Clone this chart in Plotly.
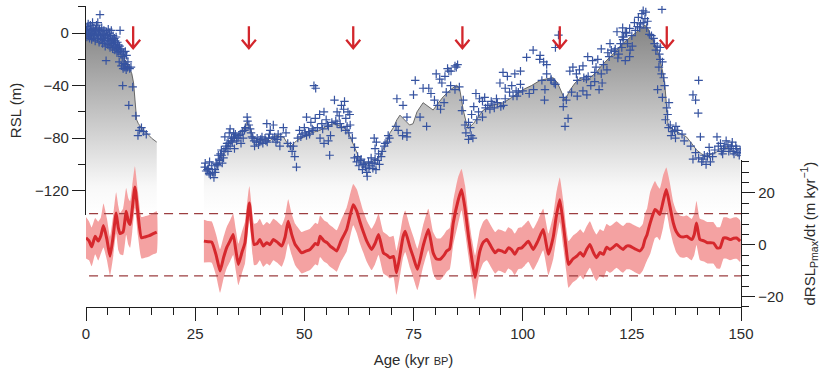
import plotly.graph_objects as go

# ---------------- data ----------------
# RSL envelope curve (m), two blocks (gap 16-27 kyr)
RSL_L_AGE = [0, 1.0, 2.0, 3.2, 4.5, 5.5, 6.5, 7.8, 8.6, 9.3, 10.0, 10.5, 10.9, 11.2, 11.4, 11.6, 12.0, 12.4, 13.2, 13.9, 15.0, 16.2]
RSL_L_VAL = [-1, -3, -4.5, -6.6, -8, -9, -11, -15, -19, -22, -27, -31, -38, -48, -57, -66, -69, -71, -74, -76, -80, -83]

RSL_R_AGE = [27.0, 28.0, 29.2, 30.0, 30.7, 31.5, 32.3, 33.0, 34.0, 35.3,
             36.2, 36.8, 37.5, 38.3, 39.5, 41.4, 42.1, 43.5, 45.2, 46.7,
             48.2, 49.8, 51.5, 53.6, 55.0, 56.6, 57.8, 58.9, 60.0, 60.8,
             61.5, 62.4, 63.5, 64.3, 65.5, 66.5, 67.3, 68.2, 69.6, 70.4,
             71.2, 71.9, 73.0, 74.1, 74.9, 75.8, 77.2, 78.3, 79.5, 80.5,
             81.8, 83.5, 84.9, 85.6, 86.4, 87.0, 87.5, 88.7, 90.0, 91.0,
             93.0, 95.6, 97.5, 100.1, 102.0, 104.0, 106.0, 107.0, 108.0, 108.6,
             109.3, 109.7, 110.3, 110.8, 112.0, 113.1, 114.7, 116.0, 117.0, 118.0,
             119.2, 120.3, 121.5, 122.6, 123.8, 125.0, 126.1, 127.2, 128.0, 128.6,
             129.1, 129.9, 130.7, 131.3, 131.8, 132.3, 132.6, 133.0, 133.3, 134.2,
             135.3, 136.5, 137.5, 138.7, 139.8, 141.0, 142.1, 143.2, 144.4, 145.5,
             146.7, 147.8, 148.8, 149.8]
RSL_R_VAL = [-102, -105, -107, -103, -97, -91, -86, -81.5, -79, -76,
             -72, -68, -71, -79, -82, -81, -82, -78, -79, -87,
             -82, -79, -76, -74, -71, -69, -70, -71.5, -75, -81.5,
             -88, -94, -98, -99, -98, -96, -94, -87, -76, -72,
             -66, -62.5, -66, -70, -69, -60, -53, -56, -58.6, -54,
             -48.5, -43, -39.6, -43, -58.7, -67, -72.6, -69, -63, -58.6,
             -55, -53, -49, -43, -40, -36, -34.5, -34, -38, -43,
             -49, -51, -47, -43.5, -38, -34.5, -36, -32, -29.5, -25,
             -20.6, -17, -13, -9, -5.3, -2, 0.8, 3.5, 6, 4,
             0, -5, -11.6, -18, -25.6, -33, -41, -58.6, -70, -73,
             -75, -77, -79, -84, -89, -92, -94, -92, -90.5, -88,
             -87, -89, -92, -94]

# individual RSL data points (age kyr, RSL m)
RSL_POINTS = [
    (0.1, 2), (0.2, -3), (0.3, 5), (0.4, 0), (0.5, 7), (0.6, -1), (0.7, 3), (0.8, -4), (0.9, 1), (1.0, 6),
    (1.1, -2), (1.2, 3), (1.3, -5), (1.4, 0), (1.5, 8), (1.6, 2), (1.7, -3), (1.8, 4), (1.9, -1), (2.0, 1),
    (2.1, -6), (2.2, 3), (2.3, -2), (2.4, 6), (2.5, 0), (2.6, -4), (2.7, 8), (2.8, 2), (2.9, -1), (3.0, -7),
    (3.1, 3), (3.2, 14), (3.3, -3), (3.4, 1), (3.5, -5), (3.6, 4), (3.7, -2), (3.8, -8), (3.9, 0), (4.0, -4),
    (4.1, 2), (4.2, -6), (4.3, -1), (4.4, -10), (4.5, -3), (4.6, -21), (4.7, 1), (4.8, -6), (4.9, -2), (5.0, -9),
    (5.1, 3), (5.2, -4), (5.3, -7), (5.4, 0), (5.5, -11), (5.6, -3), (5.7, -6), (5.8, 2), (5.9, -8), (6.0, -5),
    (6.1, -12), (6.2, -2), (6.3, -7), (6.4, -10), (6.5, -4), (6.6, -13), (6.7, -6), (6.8, -9), (6.9, -3), (7.0, -11),
    (7.1, -15), (7.2, -7), (7.3, -12), (7.4, -9), (7.5, -14), (7.6, -22), (7.7, -10), (7.8, 2), (7.9, -13), (8.0, -16),
    (8.1, -25), (8.2, -12), (8.3, -18), (8.4, -40), (8.5, -27), (8.6, -15), (8.7, -23), (8.8, -19), (8.9, -26), (9.0, -14),
    (9.1, -24), (9.2, -28), (9.3, -17), (9.5, -26), (9.6, -22), (9.8, -55), (10.0, -27), (10.3, -26), (10.7, -41), (11.4, -63),
    (12.2, -74), (11.9, -78), (12.7, -72), (13.2, -75), (13.8, -77),
    (27.2, -102), (27.3, -99), (27.5, -105), (28.0, -103), (28.3, -98), (28.5, -108), (28.8, -101), (29.0, -106), (29.3, -110), (29.5, -104),
    (29.8, -99), (30.0, -100), (30.3, -93), (30.5, -96), (30.8, -92), (31.0, -89), (31.2, -99), (31.5, -95), (31.8, -79), (32.0, -88),
    (32.3, -84), (32.5, -90), (32.8, -76), (33.0, -86), (33.0, -73), (33.3, -80), (33.5, -83), (33.8, -76), (34.0, -79), (34.0, -88),
    (34.5, -82), (35.0, -78), (35.5, -84), (36.0, -80), (36.5, -72), (36.9, -64), (37.0, -67), (37.3, -70), (37.6, -73), (38.0, -79),
    (38.5, -82), (38.6, -86), (39.0, -83), (39.5, -85), (40.0, -81), (40.5, -84), (41.0, -80), (41.4, -69), (41.5, -83), (42.0, -77),
    (42.2, -74), (42.8, -80), (42.9, -70), (43.5, -83), (44.0, -77), (44.4, -86), (45.2, -72), (45.8, -76), (46.8, -86), (47.2, -90),
    (47.8, -94), (48.2, -102), (48.9, -74), (49.5, -77), (50.0, -72), (50.5, -78), (50.5, -64), (51.0, -75), (51.5, -68), (51.8, -73),
    (52.2, -40), (52.6, -42), (52.5, -65), (53.5, -62), (53.6, -80), (54.0, -69), (54.5, -60), (54.5, -84), (55.0, -66), (55.5, -71),
    (55.5, -82), (55.8, -93), (56.0, -78), (56.9, -51), (57.5, -60), (57.5, -69), (58.0, -63), (58.5, -55), (58.5, -72), (59.0, -58),
    (59.2, -52), (59.5, -65), (59.5, -74), (60.0, -60), (60.4, -62), (60.5, -70), (61.5, -87), (61.5, -95), (62.0, -98), (62.5, -101),
    (63.0, -96), (63.3, -104), (63.7, -99), (64.0, -102), (64.3, -106), (64.4, -109), (64.7, -98), (65.0, -101), (65.3, -95), (65.7, -103),
    (66.0, -99), (66.0, -80), (66.2, -88), (66.4, -104), (66.5, -83), (66.8, -97), (67.2, -100), (67.6, -94), (68.3, -86), (69.0, -83),
    (69.5, -80), (71.0, -71), (71.2, -50), (71.5, -74), (72.5, -78), (72.6, -55), (73.5, -64), (73.5, -76), (73.5, -79), (75.0, -47),
    (75.4, -36), (76.5, -64), (77.2, -42), (78.0, -71), (78.5, -42), (79.0, -46), (79.8, -51), (80.2, -31), (80.5, -55), (81.0, -35),
    (81.2, -58), (81.5, -38), (82.0, -53), (82.2, -33), (82.5, -45), (82.8, -27), (83.1, -29), (83.5, -40), (83.6, -29), (84.5, -43),
    (84.5, -25), (84.8, -26), (85.1, -24), (86.1, -59), (86.4, -51), (87.0, -76), (87.6, -81), (87.6, -68), (88.2, -78), (88.3, -62),
    (88.6, -80), (88.8, -56), (89.3, -46), (89.9, -60), (90.1, -50), (90.8, -52), (90.8, -64), (91.3, -49), (92.0, -55), (92.5, -58),
    (92.8, -52), (93.5, -57), (94.2, -53), (94.8, -38), (95.0, -56), (95.5, -30), (95.6, -55), (96.0, -42), (96.5, -33), (97.0, -45),
    (97.5, -40), (98.2, -31), (98.5, -44), (98.7, -48), (99.5, -39), (99.5, -29), (100.0, -44), (100.9, -18.5), (101.5, -46), (102.4, -13),
    (102.5, -43), (103.9, -20), (104.0, -17), (104.4, -36), (104.8, -22), (105.0, -51), (105.1, -43), (105.5, -24), (105.5, -31), (106.5, -35),
    (106.5, -36), (107.2, -38), (107.5, -39), (107.5, -11), (108.2, -1.5), (109.3, -49), (109.3, -56), (109.7, -71), (110.0, -51), (110.4, -65),
    (110.8, -29), (111.2, -45), (111.5, -26), (112.3, -31), (112.5, -48), (113.0, -28), (113.8, -25), (113.8, -44), (114.6, -35), (114.7, -47),
    (114.9, -18), (115.6, -40), (116.0, -21), (116.5, -37), (116.8, -26), (117.2, -20), (117.5, -43), (118.0, -12), (118.0, -31), (118.2, -38),
    (119.3, -28), (119.5, -15), (120.0, -8), (120.3, -13), (121.0, -14), (121.6, 1), (121.8, -19), (122.0, -16), (122.7, -11), (122.8, -3),
    (122.9, 4), (123.0, -5), (123.1, -3), (123.5, 0.5), (123.5, -21), (123.8, 0), (124.0, -8), (124.5, -18), (124.5, 3.5), (124.6, -13),
    (125.1, -10), (125.6, 8), (126.5, 12), (127.0, 7), (127.3, 14.8), (127.6, 17), (128.0, 11), (128.2, 16), (128.6, 9), (129.0, -1),
    (130.0, -4), (130.5, -13), (130.9, -43), (131.2, -26), (131.3, -16), (131.5, -11), (131.8, -31), (131.9, 18), (132.0, -49), (132.3, -34),
    (132.7, -66), (133.0, -57), (133.4, -72), (133.5, -53), (134.0, -78), (134.3, -75), (135.0, -80), (135.1, -71), (135.5, -74), (136.5, -77),
    (137.0, -82), (138.5, -86), (139.0, -47), (139.0, -96), (139.6, -51), (139.6, -91), (140.2, -61), (140.3, -36), (140.3, -95), (140.7, -79),
    (141.0, -98), (141.6, -93), (142.0, -100), (142.3, -94), (142.7, -87), (143.0, -98), (144.0, -89), (144.5, -79), (145.3, -84), (145.8, -92),
    (146.0, -88), (146.6, -82), (147.0, -85), (147.2, -90), (147.8, -86), (148.0, -83), (148.4, -92), (149.0, -88), (149.6, -93),
    (27.8, -104), (28.2, -107), (29.6, -106), (30.2, -101), (30.6, -97), (31.1, -93), (31.6, -90), (32.1, -86), (32.6, -84), (33.2, -82),
    (33.7, -80), (34.2, -77), (34.8, -80), (35.3, -77), (35.8, -75), (36.3, -74), (37.8, -76), (38.2, -80), (39.2, -80), (39.8, -83),
    (40.3, -79), (41.2, -82), (41.8, -80), (43.2, -79), (43.8, -81), (44.6, -79), (46.2, -84), (47.5, -86), (48.5, -80), (49.2, -79),
    (50.2, -76), (51.2, -77), (52.0, -74), (53.0, -72), (54.2, -73), (55.3, -70), (56.3, -68), (57.2, -67), (58.2, -69), (59.8, -71),
    (60.2, -76), (61.0, -80), (62.2, -94), (62.8, -97), (63.5, -100), (64.8, -103), (65.5, -99), (66.2, -96), (67.0, -92), (67.8, -90),
    (68.5, -84), (69.2, -78), (85.5, -41), (86.8, -70), (88.0, -72), (89.5, -66), (91.5, -57), (93.0, -54), (94.0, -50), (96.0, -50),
    (97.8, -48), (99.0, -45), (112.5, -36), (114.0, -34), (115.0, -33), (116.5, -30), (118.5, -24), (119.8, -18), (121.2, -12), (122.4, -8),
    (125.0, -2), (125.8, 2), (126.3, 5), (126.8, 4), (127.6, 8), (128.4, 4), (129.5, -2), (130.2, -8), (130.8, -10), (131.5, -20),
    (132.0, -22), (132.5, -40), (133.2, -62), (133.8, -70), (134.8, -74), (141.3, -96), (142.8, -92), (143.5, -94), (144.8, -86), (145.5, -90),
    (146.3, -86), (147.5, -88), (148.2, -90), (148.8, -86), (149.3, -91), (149.8, -89),
]

# rate of RSL change (m/kyr), with half-width of the shaded uncertainty band
D_L_AGE = [0, 0.7, 1.3, 2.1, 2.8, 3.4, 4.0, 4.8, 5.5, 6.2, 6.9, 7.4, 7.8, 8.5, 9.2, 9.7, 10.1, 10.6, 11.2, 11.9, 12.7, 13.5, 14.5, 15.4, 16.2]
D_L_VAL = [2.7, 1.5, -0.8, 3.3, 1.4, 3.5, 7.4, 2.0, -4.4, 3.0, 12.3, 6.5, 4.3, 5.0, 12.9, 9.0, 7.8, 14.0, 22.3, 12.0, 2.7, 3.0, 3.5, 4.3, 4.9]
D_L_ERR = [8, 7.5, 7.5, 7, 7.5, 7, 8.5, 8, 7.5, 8, 8, 8.5, 8, 9, 9, 9, 9, 9, 8, 8.5, 8, 8, 8, 8, 8]

D_R_AGE = [27.0, 28.0, 28.8, 29.8, 30.7, 31.5, 32.2, 33.0, 33.7, 34.3,
           34.9, 35.7, 36.4, 37.4, 38.5, 39.2, 39.8, 40.6, 41.4, 42.1,
           42.9, 43.8, 44.8, 45.6, 46.3, 47.1, 47.9, 48.6, 49.4, 50.3,
           51.3, 52.0, 52.5, 53.1, 53.6, 54.5, 55.2, 55.9, 56.7, 57.4,
           58.4, 59.7, 61.2, 62.0, 62.7, 63.5, 64.3, 65.4, 66.2, 67.0,
           68.1, 68.9, 69.6, 70.4, 71.1, 72.0, 72.6, 73.1, 74.2, 75.0,
           75.9, 77.2, 78.4, 79.5, 80.3, 81.1, 82.0, 82.6, 83.3, 84.1,
           85.2, 86.0, 86.8, 87.6, 88.4, 89.1, 89.7, 90.2, 91.0, 91.8,
           92.7, 93.7, 94.4, 95.2, 96.0, 96.7, 97.5, 98.2, 99.0, 99.8,
           100.5, 101.3, 102.4, 103.5, 104.7, 105.9, 107.0, 107.7, 108.5, 109.3,
           110.0, 110.5, 111.5, 112.4, 113.2, 113.9, 114.6, 115.4, 116.2, 116.9,
           117.7, 118.5, 119.2, 120.0, 120.7, 121.5, 122.3, 123.0, 123.8, 124.5,
           125.6, 126.8, 127.5, 128.0, 128.5, 129.2, 130.3, 130.8, 131.4, 132.2,
           132.9, 133.7, 134.5, 135.2, 136.0, 136.8, 137.6, 138.7, 139.3, 139.8,
           140.6, 141.5, 142.3, 143.7, 144.5, 145.2, 146.0, 146.7, 147.5, 148.3,
           149.0, 149.8]
D_R_VAL = [1.4, 1.2, 1.0, -4.0, -10.1, -5.0, -1.2, 1.5, 4.0, -2.0,
           -7.6, -3.0, 0.8, 16.1, 0.1, 0.5, 2.0, -0.5, 0.8, 0.0,
           2.0, 1.0, -0.5, 3.0, 9.1, 4.0, 0.1, -1.5, -3.1, -2.5,
           -1.8, -0.5, 0.5, 0.0, 3.3, 1.5, 0.8, -0.5, -1.5, -2.4,
           1.5, 5.9, 15.5, 13.0, 9.1, 5.0, 1.4, -1.8, 0.5, 4.0,
           -3.1, -4.0, -5.0, -4.5, -10.8, -3.0, 3.0, 5.2, -1.0, -5.0,
           -9.5, -0.5, 5.9, -3.1, -5.5, -5.6, -4.0, -2.4, -1.5, 8.4,
           17.0, 21.3, 14.0, 3.3, -6.0, -12.7, -7.0, -2.4, 1.0, 2.0,
           -0.5, -3.1, -2.0, -2.4, -3.0, -1.2, -2.0, -3.7, -1.5, -1.2,
           0.0, 1.4, -1.8, 1.5, 5.9, -3.7, 3.0, 11.0, 17.4, 8.0,
           -2.0, -7.6, -5.5, -4.4, -3.0, -4.4, -2.0, 0.1, -3.0, -5.0,
           -3.0, -3.7, -1.0, -1.8, -1.0, 0.1, -1.0, -1.8, -0.5, -0.5,
           -1.5, -2.4, -1.0, 2.0, 4.0, 8.4, 13.6, 13.0, 11.7, 17.0,
           21.3, 15.0, 8.4, 5.0, 3.3, 3.0, 3.3, 2.0, 4.0, 8.4,
           2.0, 1.5, 0.8, 0.7, -1.2, -1.2, 2.6, 2.6, 2.0, 2.5,
           2.6, 1.4]
D_R_ERR = [8.3, 8, 8, 8, 8.4, 8, 8, 8, 8, 8,
           8, 8, 8, 6.5, 8, 8, 8, 8, 8, 8,
           8, 8, 8, 8, 8.5, 8, 8, 8, 8, 8,
           8, 8, 8, 8, 8, 8, 8, 8, 8, 8,
           8, 8.5, 8, 8.5, 8.5, 8, 8, 8, 8, 8,
           8, 8, 8, 8, 8.5, 8, 8, 8, 8, 8,
           8, 8, 8, 8, 8, 8, 8, 8, 8, 8.5,
           9, 8, 9, 8, 8, 8.5, 8, 8, 8, 8,
           8, 8, 8, 8, 8, 8, 8, 8, 8, 8,
           8, 8, 8, 8, 8, 8, 8.5, 9, 8.6, 9,
           8.5, 9, 9, 9, 9, 9, 9, 9, 9, 9,
           9, 9, 9, 9, 9, 9, 9, 9, 9, 9,
           9, 9, 9, 10, 10, 12, 11, 10, 10, 10,
           8.5, 9, 8, 8, 8, 8, 8, 8, 8, 8.5,
           8, 8, 8, 8, 8, 8, 8, 8, 8, 8,
           8, 8]

THRESHOLDS = [12, -12]
ARROW_AGES = [10.8, 37.3, 61.2, 86.2, 108.5, 133.0]
ARROW_TIP_RSL = -11.5

X_TICKS = [0, 25, 50, 75, 100, 125, 150]

# ---------------- styling ----------------
FONT = "Liberation Sans, Arial, Helvetica, sans-serif"
AX = "#1e1e1e"
TXT = "#2b2b2b"
BLUE = "#3653a0"
RED = "#d6282d"
BAND = "#f4a2a2"
RSL_FLOOR = -150
ARROW_PATH = "M0,0 L0,22 M-7,8.5 L0,0 L7,8.5"   # pixel offsets from the tip (stem + chevron head)

fig = go.Figure()

# grey gradient fill under RSL envelope
for ages, vals in [(RSL_L_AGE, RSL_L_VAL), (RSL_R_AGE, RSL_R_VAL)]:
    fig.add_trace(go.Scatter(
        x=list(ages) + [ages[-1], ages[0]],
        y=list(vals) + [RSL_FLOOR, RSL_FLOOR],
        mode="lines", fill="toself", line=dict(width=0),
        fillgradient=dict(type="vertical",
                          colorscale=[[0, "rgb(255,255,255)"], [0.15, "rgb(248,248,248)"], [1, "rgb(128,128,128)"]],
                          start=-139, stop=10),
        hoverinfo="skip", xaxis="x", yaxis="y"))
    fig.add_trace(go.Scatter(x=ages, y=vals, mode="lines",
                             line=dict(color="#4a4a4a", width=0.8),
                             hoverinfo="skip", xaxis="x", yaxis="y"))

fig.add_trace(go.Scatter(
    x=[p[0] for p in RSL_POINTS], y=[p[1] for p in RSL_POINTS],
    mode="markers",
    marker=dict(symbol="cross-thin", size=6, line=dict(width=1.2, color=BLUE)),
    xaxis="x", yaxis="y"))

# band + line for rate
for ages, vals, err in [(D_L_AGE, D_L_VAL, D_L_ERR), (D_R_AGE, D_R_VAL, D_R_ERR)]:
    up = [v + e for v, e in zip(vals, err)]
    lo = [v - e for v, e in zip(vals, err)]
    fig.add_trace(go.Scatter(
        x=list(ages) + list(ages)[::-1], y=up + lo[::-1],
        mode="lines", fill="toself", fillcolor=BAND,
        line=dict(width=0, shape="spline", smoothing=0.4),
        hoverinfo="skip", xaxis="x", yaxis="y2"))

for thr in THRESHOLDS:
    fig.add_trace(go.Scatter(x=[0.7, 150], y=[thr, thr], mode="lines",
                             line=dict(color="#9c3e40", width=1.3, dash="9px,6px"),
                             hoverinfo="skip", xaxis="x", yaxis="y2"))

for ages, vals in [(D_L_AGE, D_L_VAL), (D_R_AGE, D_R_VAL)]:
    fig.add_trace(go.Scatter(x=ages, y=vals, mode="lines",
                             line=dict(color=RED, width=3, shape="spline", smoothing=0.5),
                             xaxis="x", yaxis="y2"))

shapes = []
for a in ARROW_AGES:
    shapes.append(dict(type="path", xref="x", yref="y", xsizemode="pixel", ysizemode="pixel",
                       xanchor=a, yanchor=ARROW_TIP_RSL, path=ARROW_PATH,
                       line=dict(color="#d3262c", width=2.3), layer="above"))

tickfont = dict(family=FONT, size=15, color=TXT)
titlefont = dict(family=FONT, size=15, color=TXT)
common = dict(showline=True, linecolor=AX, linewidth=1.3, ticks="outside", ticklen=13,
              tickwidth=1.3, tickcolor=AX, showgrid=False, zeroline=False, tickfont=tickfont)

fig.update_layout(
    width=832, height=376,
    margin=dict(l=86, r=91, t=6, b=69),
    paper_bgcolor="white", plot_bgcolor="rgba(0,0,0,0)",
    showlegend=False,
    xaxis=dict(range=[0, 150], domain=[0, 1], anchor="y2", tickvals=X_TICKS,
               minor=dict(dtick=5, tick0=0, ticklen=7, tickwidth=1.3, tickcolor=AX, ticks="outside", showgrid=False),
               ticklabelstandoff=0,
               title=dict(text="Age (kyr <span style='font-size:11px'>BP</span>)", font=titlefont, standoff=13),
               automargin=False, **common),
    yaxis=dict(range=[-138.5, 20.6], domain=[0.3056, 1], anchor="x", side="left",
               dtick=40, tick0=0,
               minor=dict(dtick=20, tick0=0, ticklen=7, tickwidth=1.3, tickcolor=AX, ticks="outside", showgrid=False),
               title=dict(text="RSL (m)", font=titlefont, standoff=9),
               automargin=False, **common),
    yaxis2=dict(range=[-24.05, 32.7], domain=[0, 0.488], anchor="x", side="right",
                dtick=20, tick0=0,
                minor=dict(dtick=4, tick0=0, ticklen=7, tickwidth=1.3, tickcolor=AX, ticks="outside", showgrid=False),
                title=dict(text="dRSL<sub>Pmax</sub>/dt (m kyr<sup>\u22121</sup>)", font=titlefont, standoff=21),
                automargin=False, **common),
    shapes=shapes,
)

fig.write_html("out.html", config={"displayModeBar": False},
               post_script="document.body.style.margin='0px';document.body.style.overflow='hidden';")
